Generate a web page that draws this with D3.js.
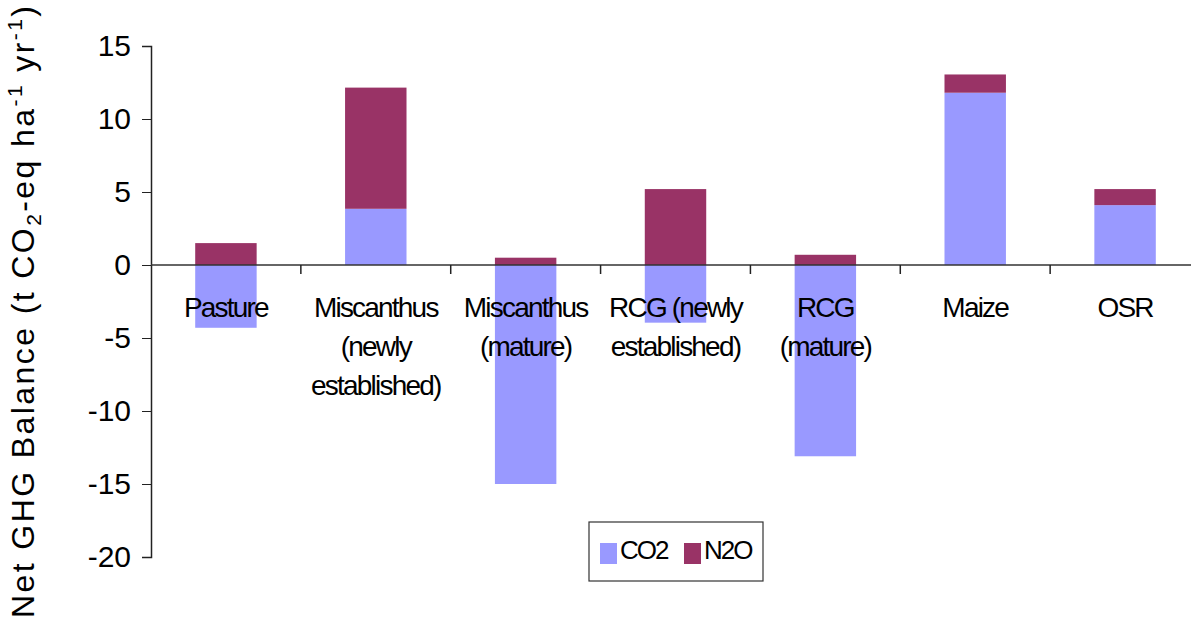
<!DOCTYPE html>
<html>
<head>
<meta charset="utf-8">
<script src="https://cdn.jsdelivr.net/npm/d3@7"></script>
<style>
  body { margin: 0; background: #fff; }
  svg { display: block; font-family: "Liberation Sans", Arial, sans-serif; }
</style>
</head>
<body>
<svg width="1191" height="625"></svg>
<script>
// chart data
var categories = ["Pasture", "Miscanthus (newly established)", "Miscanthus (mature)",
    "RCG (newly established)", "RCG (mature)", "Maize", "OSR"];
var labelLines = [["Pasture"], ["Miscanthus", "(newly", "established)"], ["Miscanthus", "(mature)"],
    ["RCG (newly", "established)"], ["RCG", "(mature)"], ["Maize"], ["OSR"]];
var co2 = [-4.3, 3.85, -15.0, -3.95, -13.1, 11.8, 4.1];
var n2o = [1.5, 8.3, 0.5, 5.2, 0.7, 1.25, 1.1];
var seriesNames = ["CO2", "N2O"];
var seriesColors = ["#9999ff", "#993366"];
var yTicks = [-20, -15, -10, -5, 0, 5, 10, 15];

var svg = d3.select("svg");

// build rows for the stack
var rows = categories.map(function(c, i) {
    return {cat: c, CO2: co2[i], N2O: n2o[i]};
});

var stack = d3.stack().keys(seriesNames).offset(d3.stackOffsetDiverging);
var layers = stack(rows);

var x = d3.scaleBand().domain(categories).range([151, 1200])
    .paddingInner(0.59).paddingOuter(0.295);
var y = d3.scaleLinear().domain([-20, 15]).range([557, 46]);

// bars
svg.append("g").selectAll("g")
    .data(layers)
    .enter().append("g")
    .attr("fill", function(d, i) { return seriesColors[i]; })
    .selectAll("rect")
    .data(function(d) { return d; })
    .enter().append("rect")
    .attr("x", function(d) { return x(d.data.cat); })
    .attr("width", x.bandwidth())
    .attr("y", function(d) { return y(Math.max(d[0], d[1])); })
    .attr("height", function(d) { return Math.abs(y(d[0]) - y(d[1])); });

// y axis (plain hyphen for negatives, like the original)
var yAxis = svg.append("g")
    .attr("transform", "translate(151,0)")
    .call(d3.axisLeft(y).tickValues(yTicks).tickSize(9).tickPadding(11)
        .tickFormat(function(d) { return String(d); }));
yAxis.select(".domain").attr("stroke", "#222").attr("stroke-width", 1.5);
yAxis.selectAll(".tick line").attr("stroke", "#222");
yAxis.selectAll(".tick text")
    .attr("font-size", 30).attr("fill", "#000")
    .attr("font-family", "Liberation Sans, Arial, sans-serif");

// zero line with category boundary ticks
var xAxis = svg.append("g");
xAxis.append("line")
    .attr("x1", 151).attr("x2", 1191)
    .attr("y1", y(0)).attr("y2", y(0))
    .attr("stroke", "#333").attr("stroke-width", 1.5);
xAxis.selectAll(".cattick")
    .data(d3.range(1, categories.length + 1))
    .enter().append("line")
    .attr("x1", function(i) { return x.range()[0] + i * x.step(); })
    .attr("x2", function(i) { return x.range()[0] + i * x.step(); })
    .attr("y1", y(0)).attr("y2", y(0) + 9)
    .attr("stroke", "#222").attr("stroke-width", 1.5);

// category labels
var lbl = svg.append("g").selectAll("text")
    .data(categories)
    .enter().append("text")
    .attr("text-anchor", "middle")
    .attr("font-size", 28)
    .attr("letter-spacing", -1.8)
    .attr("fill", "#000")
    .attr("transform", function(d) {
        return "translate(" + (x(d) + x.bandwidth() / 2) + ",317)";
    });
lbl.selectAll("tspan")
    .data(function(d, i) { return labelLines[i]; })
    .enter().append("tspan")
    .attr("x", 0)
    .attr("y", function(d, j) { return j * 39; })
    .text(function(d) { return d; });

// y axis title
var title = svg.append("text")
    .attr("transform", "translate(34,312) rotate(-90)")
    .attr("text-anchor", "middle")
    .attr("font-size", 32)
    .attr("fill", "#000")
    .attr("textLength", 612)
    .attr("lengthAdjust", "spacing");
title.append("tspan").text("Net GHG Balance (t CO");
title.append("tspan").attr("font-size", 21).attr("dy", 7).text("2");
title.append("tspan").attr("dy", -7).text("-eq ha");
title.append("tspan").attr("font-size", 21).attr("dy", -12).text("-1");
title.append("tspan").attr("dy", 12).text(" yr");
title.append("tspan").attr("font-size", 21).attr("dy", -12).text("-1");
title.append("tspan").attr("dy", 12).text(")");

// legend
var legend = svg.append("g").attr("transform", "translate(589,522)");
legend.append("rect")
    .attr("width", 174).attr("height", 59)
    .attr("fill", "#fff").attr("stroke", "#333").attr("stroke-width", 1.2);
var item = legend.selectAll(".item")
    .data(seriesNames)
    .enter().append("g")
    .attr("transform", function(d, i) { return "translate(" + (11 + i * 84) + ",0)"; });
item.append("rect")
    .attr("y", 21).attr("width", 17).attr("height", 21)
    .attr("fill", function(d, i) { return seriesColors[i]; });
item.append("text")
    .attr("x", 20).attr("y", 37)
    .attr("font-size", 26)
    .attr("letter-spacing", -2)
    .text(function(d) { return d; });
</script>
</body>
</html>
